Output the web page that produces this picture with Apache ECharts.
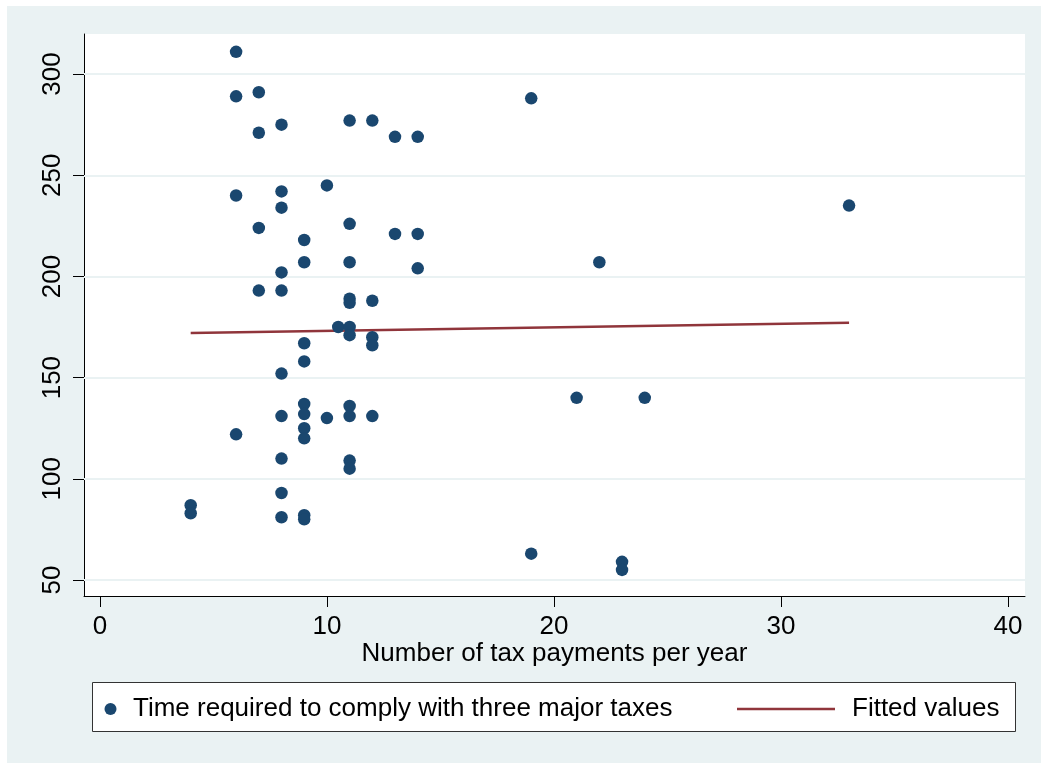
<!DOCTYPE html>
<html>
<head>
<meta charset="utf-8">
<script src="https://cdn.jsdelivr.net/npm/echarts@6/dist/echarts.min.js"></script>
<style>
html,body{margin:0;padding:0;background:#fff;}
#bg{position:absolute;left:7px;top:6px;width:1034px;height:757px;background:#eaf2f3;}
#chart{position:absolute;left:0;top:0;width:1041px;height:763px;}
</style>
</head>
<body>
<div id="bg"></div>
<div id="chart"></div>
<script>
// Number of tax payments per year (x) and time required (y)
const paymentsX = [6, 6, 7, 7, 8, 11, 12, 13, 14,
  6, 8, 8, 10, 7, 11, 13, 14, 9, 9, 11, 14, 8, 7, 8, 11, 11, 12,
  10.5, 11, 11, 12, 12, 9, 9, 8, 9, 9, 8, 10, 11, 11, 12, 6, 9, 9, 8, 11, 11, 8, 4, 4, 8, 9, 9,
  19, 33, 22, 21, 24, 19, 23, 23];
const timeY = [311, 289, 291, 271, 275, 277, 277, 269, 269,
  240, 242, 234, 245, 224, 226, 221, 221, 218, 207, 207, 204, 202, 193, 193, 189, 187, 188,
  175, 175, 171, 170, 166, 167, 158, 152, 137, 132, 131, 130, 136, 131, 131, 122, 125, 120, 110, 109, 105, 93, 87, 83, 81, 82, 80,
  288, 235, 207, 140, 140, 63, 59, 55];
const fittedX = [4, 33];
const fittedY = [172.1, 177.1];
const xTicks = [0, 10, 20, 30, 40];
const yTicks = [50, 100, 150, 200, 250, 300];
const xTitle = 'Number of tax payments per year';
const seriesNames = ['Time required to comply with three major taxes', 'Fitted values'];

const FONT = "'Liberation Sans', Arial, sans-serif";
const scatterData = paymentsX.map((x, i) => [x, timeY[i]]);
const fittedData = fittedX.map((x, i) => [x, fittedY[i]]);

const chart = echarts.init(document.getElementById('chart'), null, {renderer: 'canvas'});
chart.setOption({
  animation: false,
  backgroundColor: 'transparent',
  textStyle: {fontFamily: FONT},
  grid: {left: 84, top: 34, width: 941, height: 562, show: true, backgroundColor: '#fff', borderWidth: 0, containLabel: false},
  xAxis: {
    type: 'value', min: -0.7, max: 40.75,
    axisLine: {show: true, onZero: false, lineStyle: {color: '#000', width: 1}},
    axisTick: {show: true, customValues: xTicks, length: 11, lineStyle: {color: '#000', width: 1}},
    axisLabel: {customValues: xTicks, fontSize: 26, color: '#000', margin: 18, fontFamily: FONT},
    splitLine: {show: false},
    name: xTitle, nameLocation: 'middle', nameGap: 45, nameMoveOverlap: false,
    nameTextStyle: {fontSize: 26, color: '#000', fontFamily: FONT}
  },
  yAxis: {
    type: 'value', min: 42.1, max: 319.8,
    axisLine: {show: true, onZero: false, lineStyle: {color: '#000', width: 1}},
    axisTick: {show: true, customValues: yTicks, length: 11, lineStyle: {color: '#000', width: 1}},
    axisLabel: {customValues: yTicks, fontSize: 26, color: '#000', margin: 18, rotate: 90, fontFamily: FONT},
    splitLine: {show: false}
  },
  legend: [
    {data: [seriesNames[0]], left: 104.5, top: 696, padding: 0, itemWidth: 35, itemHeight: 12, icon: 'circle',
     textStyle: {fontSize: 26, color: '#000', fontFamily: FONT}},
    {data: [{name: seriesNames[1], icon: 'rect'}], left: 737, top: 696, padding: 0, itemWidth: 98, itemHeight: 2.5,
     textStyle: {fontSize: 26, color: '#000', fontFamily: FONT, padding: [0, 0, 0, 12]}}
  ],
  graphic: [
    {type: 'rect', z: 0, shape: {x: 92.5, y: 682.5, width: 923, height: 49},
     style: {fill: '#fff', stroke: '#333', lineWidth: 1}}
  ],
  series: [
    {name: 'grid', type: 'line', data: [], z: 1, silent: true,
     markLine: {silent: true, z: 1, symbol: 'none', animation: false, label: {show: false},
       lineStyle: {color: '#eaf2f3', width: 2, type: 'solid'},
       data: yTicks.map(v => ({yAxis: v}))}},
    {name: seriesNames[1], type: 'line', data: fittedData, symbol: 'none', z: 2,
     lineStyle: {color: '#90353b', width: 2.5}, itemStyle: {color: '#90353b'}},
    {name: seriesNames[0], type: 'scatter', data: scatterData, symbolSize: 12.5, z: 3,
     itemStyle: {color: '#1a476f', opacity: 1}}
  ]
});
</script>
</body>
</html>
